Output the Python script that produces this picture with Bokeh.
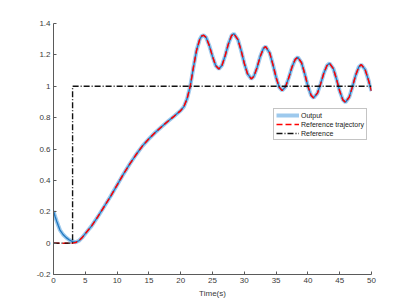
from bokeh.plotting import figure
from bokeh.models import Range1d, Legend, LegendItem, FixedTicker, CustomJSTickFormatter
from bokeh.embed import file_html
from bokeh.resources import INLINE

# Reference trajectory (red dashed)
ref_t = [0, 3.0, 3.5, 4.0, 4.5, 5.0, 5.5, 6.0, 7.0, 8.0, 9.0, 10.0, 11.0, 12.0, 13.0, 14.0,
         15.0, 16.0, 17.0, 18.0, 19.0, 20.0, 20.5, 21.0, 21.5, 22.0, 22.5, 23.0, 23.3, 23.6,
         24.0, 24.5, 25.0, 25.5, 26.0, 26.5, 27.0, 27.5, 28.0, 28.35, 29.0, 29.5, 30.0, 30.5,
         31.1, 31.5, 32.0, 32.5, 33.0, 33.35, 34.0, 34.5, 35.0, 35.5, 35.95, 36.5, 37.0, 37.5,
         38.0, 38.4, 39.0, 39.5, 40.0, 40.5, 40.9, 41.5, 42.0, 42.5, 43.0, 43.4, 44.0, 44.5,
         45.0, 45.5, 45.9, 46.5, 47.0, 47.5, 48.0, 48.4, 49.0, 49.5, 50.0]
ref_y = [0, 0, 0.004, 0.015, 0.035, 0.06, 0.085, 0.11, 0.17, 0.235, 0.30, 0.37, 0.44, 0.505,
         0.565, 0.62, 0.665, 0.705, 0.742, 0.777, 0.81, 0.845, 0.87, 0.92, 1.00, 1.12, 1.23,
         1.30, 1.32, 1.325, 1.311, 1.259, 1.190, 1.132, 1.110, 1.134, 1.196, 1.270, 1.323,
         1.335, 1.297, 1.228, 1.146, 1.080, 1.047, 1.063, 1.118, 1.189, 1.241, 1.253, 1.212,
         1.138, 1.056, 0.993, 0.973, 0.998, 1.055, 1.122, 1.171, 1.185, 1.150, 1.080, 1.000,
         0.942, 0.926, 0.956, 1.015, 1.083, 1.132, 1.146, 1.112, 1.045, 0.969, 0.913, 0.898,
         0.931, 0.996, 1.069, 1.123, 1.138, 1.106, 1.042, 0.970]

# Output: initial transient, then it tracks the reference trajectory
out_start_t = [0, 0.25, 0.5, 0.75, 1.0, 1.5, 2.0, 2.5, 3.0, 3.5]
out_start_y = [0.205, 0.17, 0.14, 0.112, 0.085, 0.055, 0.035, 0.02, 0.01, 0.006]

# Reference (step)
step_t = [0, 3, 3, 50]
step_y = [0, 0, 1, 1]

x_ticks = [0, 5, 10, 15, 20, 25, 30, 35, 40, 45, 50]
y_ticks = [-0.2, 0, 0.2, 0.4, 0.6, 0.8, 1, 1.2, 1.4]

out_t = out_start_t + [t for t in ref_t if t >= 4.0]
out_y = out_start_y + [y for t, y in zip(ref_t, ref_y) if t >= 4.0]

FONT = "Liberation Sans"
AX = "#5a5a5a"

p = figure(width=402, height=306, output_backend="svg", toolbar_location=None,
           x_range=Range1d(0, 50), y_range=Range1d(-0.2, 1.4),
           min_border_left=53, min_border_right=31, min_border_top=23, min_border_bottom=32)
p.outline_line_color = None
p.grid.visible = False
p.background_fill_color = "white"
p.border_fill_color = "white"

for ax in (p.xaxis[0], p.yaxis[0]):
    ax.axis_line_color = AX
    ax.major_tick_line_color = AX
    ax.major_tick_in = 3
    ax.major_tick_out = 0
    ax.minor_tick_line_color = None
    ax.major_label_text_font = FONT
    ax.major_label_text_font_size = "8px"
    ax.major_label_text_color = "#3a3a3a"
    ax.major_label_standoff = 3
    ax.formatter = CustomJSTickFormatter(code="return tick.toString();")

p.xaxis.ticker = FixedTicker(ticks=x_ticks)
p.yaxis.ticker = FixedTicker(ticks=y_ticks)
p.xaxis.axis_label = "Time(s)"
p.xaxis.axis_label_text_font = FONT
p.xaxis.axis_label_text_font_size = "8px"
p.xaxis.axis_label_text_font_style = "normal"
p.xaxis.axis_label_text_color = "#3a3a3a"
p.xaxis.axis_label_standoff = 3

# Output (noisy band + core)
r_out = p.line(out_t, out_y, line_color="#8cc0ea", line_width=4, line_alpha=0.85)
p.line(out_t, out_y, line_color="#1f78c1", line_width=1.3)
r_ref = p.line(ref_t, ref_y, line_color="#ff0000", line_width=1.5, line_dash="6 3")
r_step = p.line(step_t, step_y, line_color="#111111", line_width=1.4, line_dash="6 2 1 2")

legend = Legend(items=[LegendItem(label="Output", renderers=[r_out]),
                       LegendItem(label="Reference trajectory", renderers=[r_ref]),
                       LegendItem(label="Reference", renderers=[r_step])],
                location=(220, 134))
legend.label_text_font = FONT
legend.label_text_font_size = "7px"
legend.label_text_color = "#222222"
legend.glyph_width = 23
legend.glyph_height = 8
legend.label_height = 8
legend.label_standoff = 2
legend.spacing = 1
legend.padding = 2
legend.margin = 0
legend.border_line_color = "#8a8a8a"
legend.border_line_width = 1
legend.background_fill_color = "white"
legend.background_fill_alpha = 1
p.add_layout(legend, "center")

open("out.html", "w").write(file_html(p, INLINE))
